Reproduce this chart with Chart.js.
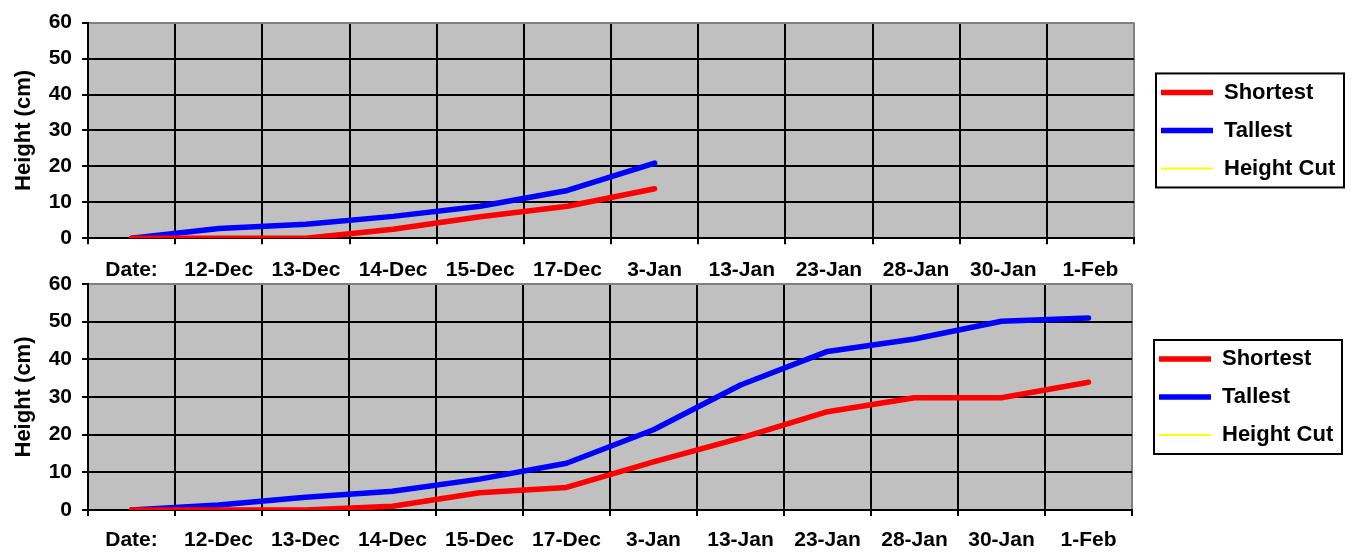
<!DOCTYPE html>
<html>
<head>
<meta charset="utf-8">
<script src="https://cdn.jsdelivr.net/npm/chart.js@4.4.0/dist/chart.umd.min.js"></script>
<style>
  html, body { margin: 0; padding: 0; background: #fff; }
  #wrap { position: relative; width: 1351px; height: 556px; overflow: hidden; }
  .box { position: absolute; left: 0; width: 1351px; }
  #topBox { top: 0; height: 296px; }
  #bottomBox { top: 250px; height: 316px; }
</style>
</head>
<body>
<div id="wrap">
  <div class="box" id="topBox"><canvas id="topChart"></canvas></div>
  <div class="box" id="bottomBox"><canvas id="bottomChart"></canvas></div>
</div>
<script>
// categories along the x axis
const dates = ['Date:', '12-Dec', '13-Dec', '14-Dec', '15-Dec', '17-Dec', '3-Jan',
               '13-Jan', '23-Jan', '28-Jan', '30-Jan', '1-Feb'];

// y axis range (cm)
const yMin = 0;
const yMax = 60;
const yStep = 10;

// upper chart
const topShortest = [0, 0, 0, 2.5, 6, 8.9, 13.8, null, null, null, null, null];
const topTallest  = [0, 2.7, 3.9, 6.1, 8.9, 13.3, 20.9, null, null, null, null, null];

// lower chart
const bottomShortest = [0, 0, 0, 1, 4.6, 6, 12.8, 19.1, 26.1, 29.8, 29.8, 33.9];
const bottomTallest  = [0, 1.3, 3.4, 5, 8.2, 12.4, 21.3, 33.2, 42.1, 45.4, 50.1, 51];

// no values recorded for the cut height
const heightCut = [];

const FONT = "'Liberation Sans', Arial, sans-serif";
Chart.defaults.font.family = FONT;
Chart.defaults.color = '#000';

/**
 * Grey plot background, fixed legend width and the framed legend box
 */
function excelLook(legendWidth) {
    return {
        id: 'excelLook',
        beforeInit(chart) {
            const lg = chart.legend;
            const fit = lg.fit.bind(lg);
            lg.fit = function () {
                fit();
                this.width = legendWidth;
            };
        },
        afterLayout(chart) {
            // move legend items in from the plot edge
            chart.legend.left += 11;
        },
        beforeDraw(chart) {
            const {ctx, chartArea: a} = chart;
            ctx.save();
            ctx.fillStyle = '#c0c0c0';
            ctx.fillRect(a.left, a.top, a.right - a.left, a.bottom - a.top);
            ctx.restore();
        },
        afterDraw(chart) {
            const {ctx, chartArea: a} = chart;
            const mid = (a.top + a.bottom) / 2;
            ctx.save();
            ctx.strokeStyle = '#000';
            ctx.lineWidth = 2;
            ctx.strokeRect(a.right + 22, mid - 57, 188, 114);
            ctx.restore();
        }
    };
}

function makeChart(canvasId, shortest, tallest, opts) {
    const ctx = document.getElementById(canvasId).getContext('2d');
    return new Chart(ctx, {
        type: 'line',
        data: {
            labels: dates,
            datasets: [{
                label: 'Shortest',
                data: shortest,
                borderColor: '#ff0000',
                backgroundColor: '#ff0000',
                borderWidth: 5.5,
                borderCapStyle: 'round',
                borderJoinStyle: 'round',
                pointRadius: 0,
                pointStyle: 'line',
                tension: 0
            }, {
                label: 'Tallest',
                data: tallest,
                borderColor: '#0000ff',
                backgroundColor: '#0000ff',
                borderWidth: 5.5,
                borderCapStyle: 'round',
                borderJoinStyle: 'round',
                pointRadius: 0,
                pointStyle: 'line',
                tension: 0
            }, {
                label: 'Height Cut',
                data: heightCut,
                borderColor: '#ffff00',
                backgroundColor: '#ffff00',
                borderWidth: 2,
                pointRadius: 0,
                pointStyle: 'line'
            }]
        },
        options: {
            responsive: true,
            maintainAspectRatio: false,
            animation: false,
            layout: {
                padding: { top: opts.padTop, bottom: opts.padBottom, left: 0, right: 0 }
            },
            plugins: {
                legend: {
                    position: 'right',
                    fullSize: false,
                    labels: {
                        usePointStyle: true,
                        pointStyleWidth: 52,
                        padding: 16,
                        font: { size: 22, weight: 'bold' }
                    }
                },
                tooltip: { enabled: false }
            },
            scales: {
                x: {
                    offset: true,
                    grid: {
                        offset: true,
                        color: c => (c.type === 'tick' ? '#000' : '#808080'),
                        lineWidth: 2,
                        tickColor: '#000',
                        tickWidth: 2,
                        tickLength: 6
                    },
                    border: { color: '#000', width: 2 },
                    ticks: {
                        autoSkip: false,
                        maxRotation: 0,
                        padding: opts.xPad,
                        font: { size: 21, weight: 'bold' }
                    }
                },
                y: {
                    min: yMin,
                    max: yMax,
                    afterFit(scale) { scale.width = 88; },
                    grid: {
                        color: c => (c.tick && c.tick.value === yMax ? '#808080' : '#000'),
                        lineWidth: 2,
                        tickColor: '#000',
                        tickWidth: 2,
                        tickLength: 6
                    },
                    border: { color: '#000', width: 2 },
                    ticks: {
                        stepSize: yStep,
                        padding: 10,
                        font: { size: 21, weight: 'bold' }
                    },
                    title: {
                        display: true,
                        text: 'Height (cm)',
                        padding: { top: 11, bottom: 0 },
                        font: { size: 22, weight: 'bold' }
                    }
                }
            }
        },
        plugins: [excelLook(opts.legendWidth)]
    });
}

makeChart('topChart', topShortest, topTallest,
    { padTop: 20, padBottom: 0.5, xPad: 13, legendWidth: 217 });
makeChart('bottomChart', bottomShortest, bottomTallest,
    { padTop: 34, padBottom: 0.8, xPad: 12, legendWidth: 219 });
</script>
</body>
</html>
